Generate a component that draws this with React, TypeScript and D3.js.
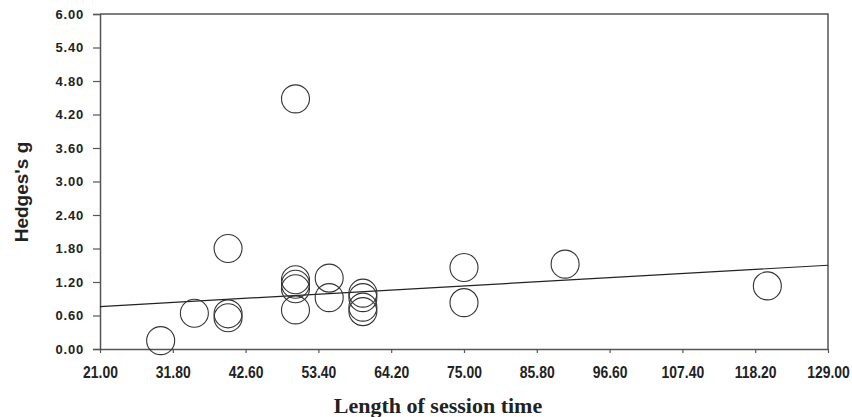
import React, { useEffect, useRef } from 'react'
import * as d3 from 'd3'

// session length (minutes) and effect size per study
const sessionLength = [30, 35, 40, 40, 40, 50, 50, 50, 50, 50, 55, 55, 60, 60, 60, 60, 75, 75, 90, 120]
const hedgesG = [0.15, 0.64, 0.63, 0.56, 1.80, 4.48, 1.24, 1.16, 1.08, 0.70, 1.27, 0.92, 1.00, 0.92, 0.75, 0.67, 1.46, 0.83, 1.52, 1.13]

const xTicks = [21.0, 31.8, 42.6, 53.4, 64.2, 75.0, 85.8, 96.6, 107.4, 118.2, 129.0]
const yTicks = [0.0, 0.6, 1.2, 1.8, 2.4, 3.0, 3.6, 4.2, 4.8, 5.4, 6.0]

// fitted regression line
const regIntercept = 0.616
const regSlope = 0.00685

const width = 852
const height = 417
const margin = { top: 14, right: 24, bottom: 68, left: 100 }

export default function App() {
    const svgRef = useRef<SVGSVGElement>(null)

    useEffect(() => {
        if (!svgRef.current) return
        const svg = d3.select(svgRef.current)
        svg.selectAll("*").remove()

        const x = d3.scaleLinear().domain([21, 129]).range([margin.left, width - margin.right])
        const y = d3.scaleLinear().domain([0, 6]).range([height - margin.bottom, margin.top])

        const axisColor = "#555"

        // y axis
        const yAxis = svg.append("g")
            .attr("transform", `translate(${margin.left},0)`)
            .call(d3.axisLeft(y).tickValues(yTicks).tickSize(7).tickPadding(9).tickFormat(d => (+d).toFixed(2)))
        yAxis.select(".domain").attr("stroke", axisColor).attr("stroke-width", 1.5)
        yAxis.selectAll(".tick line").attr("stroke", axisColor).attr("stroke-width", 1.2)
        yAxis.selectAll(".tick text")
            .style("font-family", "'Liberation Sans', Arial, sans-serif")
            .style("font-weight", "bold")
            .style("font-size", "13px")
            .style("letter-spacing", "0.8px")
            .attr("fill", "#222")

        // x axis
        const xAxis = svg.append("g")
            .attr("transform", `translate(0,${height - margin.bottom})`)
            .call(d3.axisBottom(x).tickValues(xTicks).tickSize(4).tickSizeOuter(0).tickFormat(d => (+d).toFixed(2)))
        xAxis.select(".domain").attr("stroke", axisColor).attr("stroke-width", 1.5)
        xAxis.selectAll(".tick line").attr("stroke", axisColor).attr("stroke-width", 1.2)
        xAxis.selectAll<SVGTextElement, number>(".tick text")
            .attr("y", 0)
            .attr("dy", 0)
            .attr("transform", "translate(0,29) scale(0.82,1)")
            .style("font-family", "'Liberation Sans', Arial, sans-serif")
            .style("font-weight", "bold")
            .style("font-size", "17px")
            .attr("fill", "#222")

        // frame top and right
        svg.append("path")
            .attr("d", `M${margin.left},${margin.top}H${width - margin.right}V${height - margin.bottom}`)
            .attr("fill", "none")
            .attr("stroke", axisColor)
            .attr("stroke-width", 1.5)

        // regression line
        svg.append("line")
            .attr("x1", x(21)).attr("y1", y(regIntercept + regSlope * 21))
            .attr("x2", x(129)).attr("y2", y(regIntercept + regSlope * 129))
            .attr("stroke", "#222")
            .attr("stroke-width", 1.2)

        // study circles
        const pts = sessionLength.map((s, i) => ({ s, g: hedgesG[i] }))
        svg.append("g").selectAll("circle")
            .data(pts)
            .enter().append("circle")
            .attr("cx", d => x(d.s))
            .attr("cy", d => y(d.g))
            .attr("r", 14)
            .attr("fill", "none")
            .attr("stroke", "#333")
            .attr("stroke-width", 1.1)

        // axis titles
        svg.append("text")
            .attr("transform", `translate(28,192) rotate(-90)`)
            .attr("text-anchor", "middle")
            .style("font-family", "'Liberation Sans', Arial, sans-serif")
            .style("font-weight", "bold")
            .style("font-size", "19px")
            .attr("fill", "#222")
            .text("Hedges's g")

        svg.append("text")
            .attr("x", 438)
            .attr("y", 413)
            .attr("text-anchor", "middle")
            .style("font-family", "'Liberation Serif', 'Times New Roman', serif")
            .style("font-weight", "bold")
            .style("font-size", "22px")
            .attr("fill", "#222")
            .text("Length of session time")
    }, [])

    return (
        <svg ref={svgRef} width={width} height={height}
            style={{ position: 'absolute', left: 0, top: 0, background: '#fff' }} />
    )
}
